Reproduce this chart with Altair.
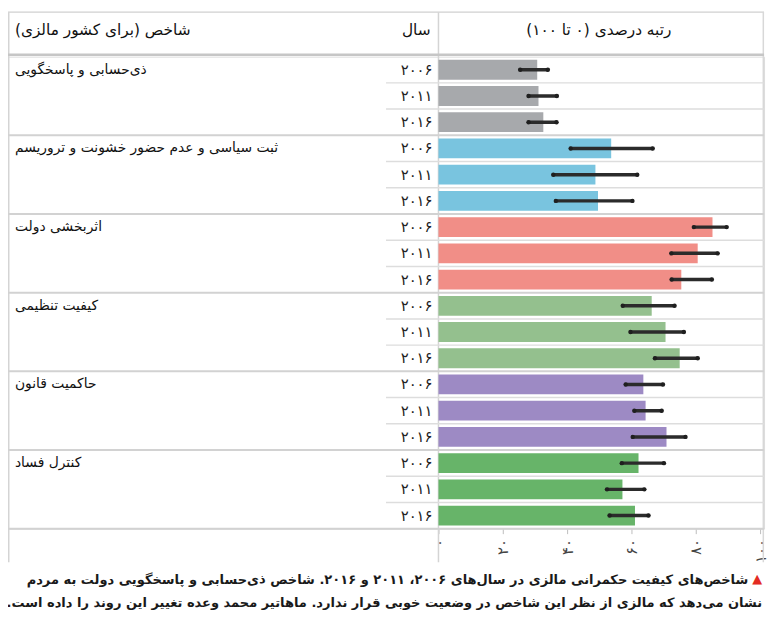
import altair as alt
import pandas as pd

# ---------------- data ----------------
indicators = [
    "ذی‌حسابی و پاسخگویی",
    "ثبت سیاسی و عدم حضور خشونت و تروریسم",
    "اثربخشی دولت",
    "کیفیت تنظیمی",
    "حاکمیت قانون",
    "کنترل فساد",
]
years = ["۲۰۰۶", "۲۰۱۱", "۲۰۱۶"]

scores = [30.7, 31.1, 32.6, 53.7, 48.8, 49.6, 85.2, 80.6, 75.5,
          66.3, 70.6, 75.0, 63.7, 64.4, 70.9, 62.2, 57.2, 61.1]
lower = [25.4, 28.0, 28.0, 41.1, 35.7, 36.5, 79.4, 72.4, 72.5,
         57.3, 59.7, 67.3, 58.2, 60.9, 60.4, 57.0, 52.4, 53.2]
upper = [34.0, 36.8, 36.7, 66.6, 61.8, 60.3, 89.6, 86.8, 85.0,
         73.4, 76.3, 80.6, 69.8, 69.4, 76.8, 70.1, 64.0, 65.3]

palette = ["#a7a9ac", "#79c4df", "#f18e87", "#94c08e", "#9d8ac4", "#67b469"]

tick_values = [0, 20, 40, 60, 80, 100]
tick_labels = ["۰", "۲۰", "۴۰", "۶۰", "۸۰", "۱۰۰"]

header_indicator = "شاخص (برای کشور مالزی)"
header_year = "سال"
header_score = "رتبه درصدی (۰ تا ۱۰۰)"
caption_lines = [
    "شاخص‌های کیفیت حکمرانی مالزی در سال‌های ۲۰۰۶، ۲۰۱۱ و ۲۰۱۶. شاخص ذی‌حسابی و پاسخگویی دولت به مردم",
    "نشان می‌دهد که مالزی از نظر این شاخص در وضعیت خوبی قرار ندارد. ماهاتیر محمد وعده تغییر این روند را داده است.",
]

RLM = "\u200f"


def rtl(s):
    return RLM + s + RLM


recs = []
for gi, ind in enumerate(indicators):
    for yi, yr in enumerate(years):
        k = gi * 3 + yi
        recs.append({
            "row": f"r{k:02d}", "k": k, "gi": gi, "yi": yi,
            "indicator": ind, "name": rtl(ind), "year": yr,
            "score": scores[k], "lower": lower[k], "upper": upper[k],
        })
df = pd.DataFrame(recs)
row_ids = list(df["row"])
n_rows = len(row_ids)

# ---------------- layout ----------------
FONT = "DejaVu Sans"
W, H = 764, 477
X0, X100 = 435, 760

xscale = alt.Scale(domain=[0, 100], range=[X0, X100])
yscale = alt.Scale(domain=row_ids, paddingInner=0, paddingOuter=0)

label_expr = " : ".join(
    f"datum.value == {v} ? '{l}'" for v, l in zip(tick_values, tick_labels)
) + " : ''"

xaxis = alt.Axis(values=tick_values, labelExpr=label_expr, labelAngle=270,
                 title=None, domain=False, grid=False, ticks=True, tickSize=5,
                 tickColor="#bdbdbd", labelColor="#444444", labelFontSize=15,
                 labelFont=FONT, labelPadding=5, labelFlush=False, labelOverlap=False)

base = alt.Chart(df)
one = alt.Chart(pd.DataFrame({"a": [0]}))

Y = lambda bp=0.5: alt.Y("row:N", scale=yscale, axis=None, bandPosition=bp)

# frame lines
top_line = one.mark_rule(color="#d0d0d0", strokeWidth=1.5).encode(
    x=alt.value(0), x2=alt.value(W), y=alt.value(-45))
head_line = one.mark_rule(color="#c6c6c6", strokeWidth=2.5).encode(
    x=alt.value(0), x2=alt.value(W), y=alt.value(-2))
v_left = one.mark_rule(color="#d4d4d4", strokeWidth=1.5).encode(
    x=alt.value(0.75), y=alt.value(-45), y2=alt.value(511))
v_right = one.mark_rule(color="#d8d8d8", strokeWidth=1.5).encode(
    x=alt.value(W - 0.75), y=alt.value(-45), y2=alt.value(511))
v_axis = one.mark_rule(color="#d4d4d4", strokeWidth=1.5).encode(
    x=alt.value(X0), y=alt.value(-45), y2=alt.value(511))

inner_sep = base.transform_filter("datum.yi > 0").mark_rule(
    color="#dddddd", strokeWidth=1.5).encode(
    y=Y(0), x=alt.value(382), x2=alt.value(W))
group_sep = base.transform_filter("datum.yi == 0 && datum.gi > 0").mark_rule(
    color="#d2d2d2", strokeWidth=2).encode(
    y=Y(0), x=alt.value(0), x2=alt.value(W))
bottom_sep = base.transform_filter(f"datum.k == {n_rows - 1}").mark_rule(
    color="#d2d2d2", strokeWidth=2).encode(
    y=Y(1), x=alt.value(0), x2=alt.value(W))

bars = base.mark_bar(height=alt.RelativeBandSize(0.755)).encode(
    x=alt.X("score:Q", scale=xscale, axis=xaxis),
    y=Y(),
    color=alt.Color("indicator:N", scale=alt.Scale(domain=indicators, range=palette),
                    legend=None),
)

err = base.mark_rule(strokeWidth=3.5, color="#2b2b2b", strokeCap="round").encode(
    x=alt.X("lower:Q", scale=xscale, axis=xaxis),
    x2="upper:Q",
    y=Y(),
)
ends = base.transform_fold(["lower", "upper"], as_=["end", "v"]).mark_circle(
    size=20, color="#1f1f1f", opacity=1).encode(
    x=alt.X("v:Q", scale=xscale, axis=xaxis),
    y=Y(),
)

names = base.transform_filter("datum.yi == 0").mark_text(
    align="left", baseline="middle", font=FONT, fontSize=14, color="#111111").encode(
    y=Y(), x=alt.value(7), text="name:N")

year_txt = base.mark_text(
    align="right", baseline="middle", font=FONT, fontSize=15,
    color="#222222").encode(
    y=Y(), x=alt.value(429), text="year:N")

hdr1 = one.mark_text(align="left", baseline="middle", font=FONT, fontSize=15.5,
                     color="#111111").encode(
    x=alt.value(7), y=alt.value(-27), text=alt.value(rtl(header_indicator)))
hdr2 = one.mark_text(align="right", baseline="middle", font=FONT, fontSize=15.5,
                     color="#111111").encode(
    x=alt.value(427), y=alt.value(-27), text=alt.value(rtl(header_year)))
hdr3 = one.mark_text(align="center", baseline="middle", font=FONT, fontSize=15.5,
                     color="#111111").encode(
    x=alt.value(597), y=alt.value(-27), text=alt.value(rtl(header_score)))

cap1 = one.mark_text(align="right", baseline="middle", font=FONT, fontSize=13.15,
                     fontWeight="bold", color="#1a1a1a").encode(
    x=alt.value(748), y=alt.value(529), text=alt.value(rtl(caption_lines[0])))
cap2 = one.mark_text(align="right", baseline="middle", font=FONT, fontSize=13.15,
                     fontWeight="bold", color="#1a1a1a").encode(
    x=alt.value(762), y=alt.value(552), text=alt.value(rtl(caption_lines[1])))
tri = one.mark_text(align="right", baseline="middle", font=FONT, fontSize=13,
                    color="#e32b22").encode(
    x=alt.value(762), y=alt.value(528), text=alt.value("▲"))

chart = alt.layer(
    top_line, v_left, v_right, v_axis,
    inner_sep, group_sep, bottom_sep, head_line,
    bars, err, ends, names, year_txt,
    hdr1, hdr2, hdr3, cap1, cap2, tri,
).properties(
    width=W, height=H,
    autosize=alt.AutoSizeParams(type="none"),
    padding={"left": 0, "top": 46, "right": 5, "bottom": 80},
).configure_view(stroke=None).configure(background="white")

chart.save("out.html", embed_options={"renderer": "svg", "actions": False})
